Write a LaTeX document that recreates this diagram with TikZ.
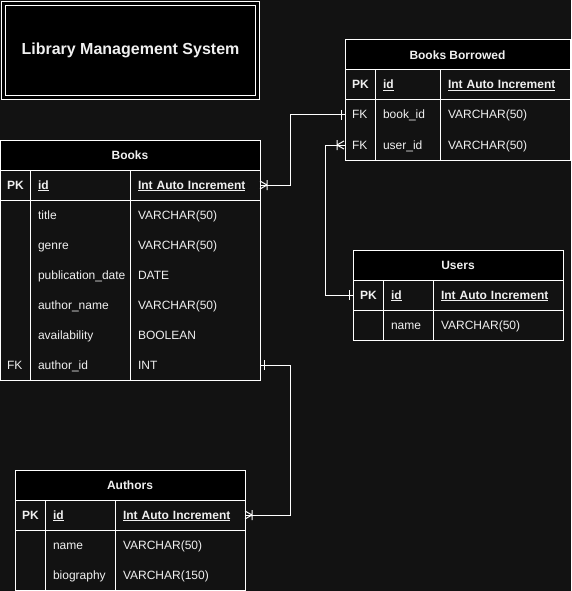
\documentclass[tikz,border=0pt]{standalone}
\usepackage{fontspec}
\setmainfont{Liberation Sans}
\usetikzlibrary{positioning}

\definecolor{canvas}{HTML}{121212}
\definecolor{ink}{HTML}{F0F0F0}

\tikzset{
	many/.pic={\draw (0,0) -- (-7,-4) (0,0) -- (-7,4) (0,-5) -- (0,5);},
	one/.pic={\draw (0,-5) -- (0,5);}
}

\begin{document}
\begin{tikzpicture}[x=1pt, y=-1pt, line width=1pt, draw=white, text=ink,
	node distance=0pt,
	hdr/.style={draw=white, fill=black, font=\bfseries\fontsize{12}{14}\selectfont,
		minimum height=30pt, anchor=north west, inner sep=0pt, outer sep=0pt},
	fld/.style={text width=#1, align=left, inner xsep=8pt, inner ysep=0pt, outer sep=0pt,
		text height=10pt, text depth=2pt,
		minimum height=30pt, anchor=west, font=\fontsize{12}{14}\selectfont},
	key/.style={fld=14pt, inner xsep=7pt, text width=16pt},
	pk/.style={font=\bfseries\fontsize{12}{14}\selectfont}]

	\useasboundingbox [fill=canvas] (0,0) rectangle (571,591);

	% Title
	\node [draw=white, double=black, double distance=3pt, fill=black,
		minimum width=254pt, minimum height=94pt,
		font=\bfseries\fontsize{16}{19}\selectfont] (title) at (130.5,50.5) {Library Management System};

	% Books
	\node [hdr, minimum width=260pt] (books) at (0,140) {Books};
	\node [key, pk, below right=0pt of books.south west] (books-id-k) {PK};
	\node [fld=84pt, pk, right=0pt of books-id-k]  (books-id-n) {\underline{id}};
	\node [fld=114pt, pk, right=0pt of books-id-n] (books-id-t) {\underline{Int Auto Increment}};
	\node [key, below=0pt of books-id-k]       (books-title-k) {};
	\node [fld=84pt, right=0pt of books-title-k]  (books-title-n) {title};
	\node [fld=114pt, right=0pt of books-title-n] (books-title-t) {VARCHAR(50)};
	\node [key, below=0pt of books-title-k]    (books-genre-k) {};
	\node [fld=84pt, right=0pt of books-genre-k]  (books-genre-n) {genre};
	\node [fld=114pt, right=0pt of books-genre-n] (books-genre-t) {VARCHAR(50)};
	\node [key, below=0pt of books-genre-k]    (books-pub-k) {};
	\node [fld=84pt, right=0pt of books-pub-k]  (books-pub-n) {publication\_date};
	\node [fld=114pt, right=0pt of books-pub-n] (books-pub-t) {DATE};
	\node [key, below=0pt of books-pub-k]      (books-aname-k) {};
	\node [fld=84pt, right=0pt of books-aname-k]  (books-aname-n) {author\_name};
	\node [fld=114pt, right=0pt of books-aname-n] (books-aname-t) {VARCHAR(50)};
	\node [key, below=0pt of books-aname-k]    (books-avail-k) {};
	\node [fld=84pt, right=0pt of books-avail-k]  (books-avail-n) {availability};
	\node [fld=114pt, right=0pt of books-avail-n] (books-avail-t) {BOOLEAN};
	\node [key, below=0pt of books-avail-k]    (books-aid-k) {FK};
	\node [fld=84pt, right=0pt of books-aid-k]  (books-aid-n) {author\_id};
	\node [fld=114pt, right=0pt of books-aid-n] (books-aid-t) {INT};
	\draw (books.south west) rectangle (books-aid-t.south east);
	\draw (books-id-n.north west) -- (books-aid-n.south west);
	\draw (books-id-t.north west) -- (books-aid-t.south west);
	\draw (books-id-k.south west) -- (books-id-t.south east);

	% Books Borrowed
	\node [hdr, minimum width=225pt] (bb) at (345,40) {Books Borrowed};
	\node [key, pk, below right=0pt of bb.south west] (bb-id-k) {PK};
	\node [fld=49pt, pk, right=0pt of bb-id-k]  (bb-id-n) {\underline{id}};
	\node [fld=114pt, pk, right=0pt of bb-id-n] (bb-id-t) {\underline{Int Auto Increment}};
	\node [key, below=0pt of bb-id-k]       (bb-book-k) {FK};
	\node [fld=49pt, right=0pt of bb-book-k]  (bb-book-n) {book\_id};
	\node [fld=114pt, right=0pt of bb-book-n] (bb-book-t) {VARCHAR(50)};
	\node [key, below=0pt of bb-book-k]     (bb-user-k) {FK};
	\node [fld=49pt, right=0pt of bb-user-k]  (bb-user-n) {user\_id};
	\node [fld=114pt, right=0pt of bb-user-n] (bb-user-t) {VARCHAR(50)};
	\draw (bb.south west) rectangle (bb-user-t.south east);
	\draw (bb-id-n.north west) -- (bb-user-n.south west);
	\draw (bb-id-t.north west) -- (bb-user-t.south west);
	\draw (bb-id-k.south west) -- (bb-id-t.south east);

	% Users
	\node [hdr, minimum width=210pt] (users) at (353,250) {Users};
	\node [key, pk, below right=0pt of users.south west] (users-id-k) {PK};
	\node [fld=34pt, pk, right=0pt of users-id-k]  (users-id-n) {\underline{id}};
	\node [fld=114pt, pk, right=0pt of users-id-n] (users-id-t) {\underline{Int Auto Increment}};
	\node [key, below=0pt of users-id-k]       (users-name-k) {};
	\node [fld=34pt, right=0pt of users-name-k]  (users-name-n) {name};
	\node [fld=114pt, right=0pt of users-name-n] (users-name-t) {VARCHAR(50)};
	\draw (users.south west) rectangle (users-name-t.south east);
	\draw (users-id-n.north west) -- (users-name-n.south west);
	\draw (users-id-t.north west) -- (users-name-t.south west);
	\draw (users-id-k.south west) -- (users-id-t.south east);

	% Authors
	\node [hdr, minimum width=230pt] (authors) at (15,470) {Authors};
	\node [key, pk, below right=0pt of authors.south west] (authors-id-k) {PK};
	\node [fld=54pt, pk, right=0pt of authors-id-k]  (authors-id-n) {\underline{id}};
	\node [fld=114pt, pk, right=0pt of authors-id-n] (authors-id-t) {\underline{Int Auto Increment}};
	\node [key, below=0pt of authors-id-k]       (authors-name-k) {};
	\node [fld=54pt, right=0pt of authors-name-k]  (authors-name-n) {name};
	\node [fld=114pt, right=0pt of authors-name-n] (authors-name-t) {VARCHAR(50)};
	\node [key, below=0pt of authors-name-k]     (authors-bio-k) {};
	\node [fld=54pt, right=0pt of authors-bio-k]  (authors-bio-n) {biography};
	\node [fld=114pt, right=0pt of authors-bio-n] (authors-bio-t) {VARCHAR(150)};
	\draw (authors.south west) rectangle (authors-bio-t.south east);
	\draw (authors-id-n.north west) -- (authors-bio-n.south west);
	\draw (authors-id-t.north west) -- (authors-bio-t.south west);
	\draw (authors-id-k.south west) -- (authors-id-t.south east);

	% Relations
	\draw (books-id-t.east) -- ++(30,0) |- (bb-book-k.west);
	\draw (bb-user-k.west) -- ++(-20,0) |- (users-id-k.west);
	\draw (books-aid-t.east) -- ++(30,0) |- (authors-id-t.east);

	\pic at ([xshift=7pt]books-id-t.east) {many};
	\pic at ([xshift=-4pt]bb-book-k.west) {one};
	\pic [rotate=180] at ([xshift=-8pt]bb-user-k.west) {many};
	\pic at ([xshift=-4pt]users-id-k.west) {one};
	\pic at ([xshift=4pt]books-aid-t.east) {one};
	\pic at ([xshift=7pt]authors-id-t.east) {many};
\end{tikzpicture}
\end{document}
